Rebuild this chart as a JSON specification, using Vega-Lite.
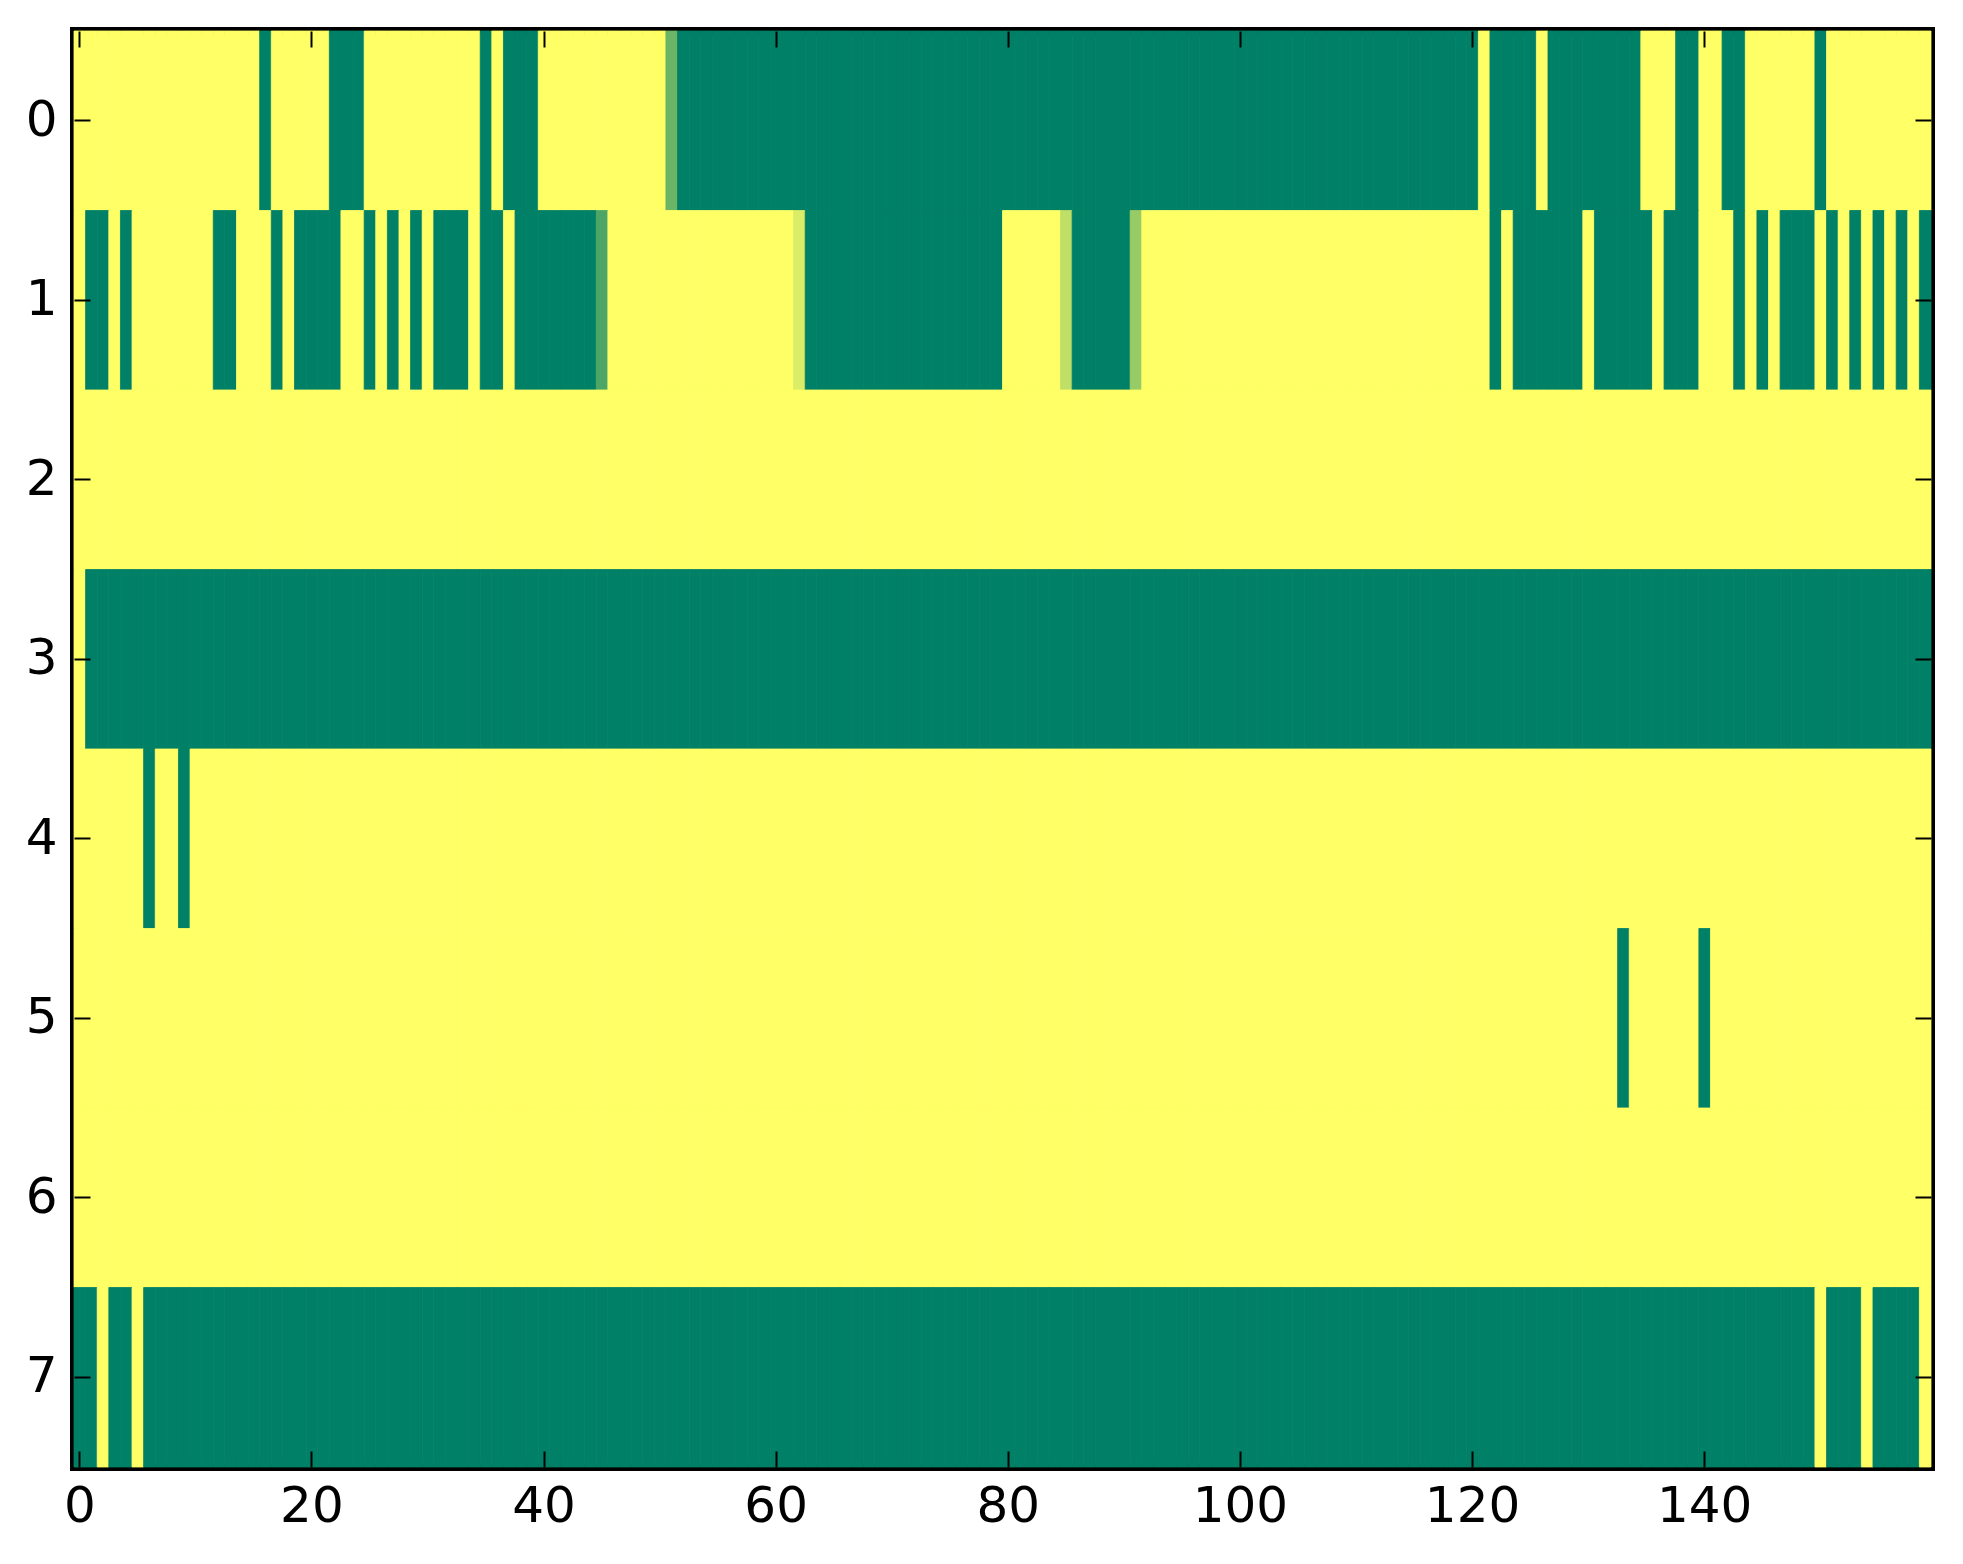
{
  "$schema": "https://vega.github.io/schema/vega-lite/v6.json",
  "width": 1857,
  "height": 1436,
  "autosize": {"type": "none"},
  "padding": {"left": 74, "top": 31, "right": 32, "bottom": 97},
  "background": "white",
  "config": {
    "view": {"stroke": "black", "strokeWidth": 8},
    "font": "DejaVu Sans",
    "axis": {
      "domain": false,
      "grid": false,
      "tickColor": "black",
      "tickWidth": 2,
      "tickSize": -16,
      "labelFont": "DejaVu Sans",
      "labelFontSize": 50,
      "labelColor": "black",
      "title": null
    }
  },
  "data": {
    "values": [
      {"x":0,"y":0,"v":1},{"x":1,"y":0,"v":1},{"x":2,"y":0,"v":1},{"x":3,"y":0,"v":1},{"x":4,"y":0,"v":1},{"x":5,"y":0,"v":1},{"x":6,"y":0,"v":1},{"x":7,"y":0,"v":1},{"x":8,"y":0,"v":1},{"x":9,"y":0,"v":1},
      {"x":10,"y":0,"v":1},{"x":11,"y":0,"v":1},{"x":12,"y":0,"v":1},{"x":13,"y":0,"v":1},{"x":14,"y":0,"v":1},{"x":15,"y":0,"v":1},{"x":16,"y":0,"v":0},{"x":17,"y":0,"v":1},{"x":18,"y":0,"v":1},{"x":19,"y":0,"v":1},
      {"x":20,"y":0,"v":1},{"x":21,"y":0,"v":1},{"x":22,"y":0,"v":0},{"x":23,"y":0,"v":0},{"x":24,"y":0,"v":0},{"x":25,"y":0,"v":1},{"x":26,"y":0,"v":1},{"x":27,"y":0,"v":1},{"x":28,"y":0,"v":1},{"x":29,"y":0,"v":1},
      {"x":30,"y":0,"v":1},{"x":31,"y":0,"v":1},{"x":32,"y":0,"v":1},{"x":33,"y":0,"v":1},{"x":34,"y":0,"v":1},{"x":35,"y":0,"v":0},{"x":36,"y":0,"v":1},{"x":37,"y":0,"v":0},{"x":38,"y":0,"v":0},{"x":39,"y":0,"v":0},
      {"x":40,"y":0,"v":1},{"x":41,"y":0,"v":1},{"x":42,"y":0,"v":1},{"x":43,"y":0,"v":1},{"x":44,"y":0,"v":1},{"x":45,"y":0,"v":1},{"x":46,"y":0,"v":1},{"x":47,"y":0,"v":1},{"x":48,"y":0,"v":1},{"x":49,"y":0,"v":1},
      {"x":50,"y":0,"v":1},{"x":51,"y":0,"v":0.42},{"x":52,"y":0,"v":0},{"x":53,"y":0,"v":0},{"x":54,"y":0,"v":0},{"x":55,"y":0,"v":0},{"x":56,"y":0,"v":0},{"x":57,"y":0,"v":0},{"x":58,"y":0,"v":0},{"x":59,"y":0,"v":0},
      {"x":60,"y":0,"v":0},{"x":61,"y":0,"v":0},{"x":62,"y":0,"v":0},{"x":63,"y":0,"v":0},{"x":64,"y":0,"v":0},{"x":65,"y":0,"v":0},{"x":66,"y":0,"v":0},{"x":67,"y":0,"v":0},{"x":68,"y":0,"v":0},{"x":69,"y":0,"v":0},
      {"x":70,"y":0,"v":0},{"x":71,"y":0,"v":0},{"x":72,"y":0,"v":0},{"x":73,"y":0,"v":0},{"x":74,"y":0,"v":0},{"x":75,"y":0,"v":0},{"x":76,"y":0,"v":0},{"x":77,"y":0,"v":0},{"x":78,"y":0,"v":0},{"x":79,"y":0,"v":0},
      {"x":80,"y":0,"v":0},{"x":81,"y":0,"v":0},{"x":82,"y":0,"v":0},{"x":83,"y":0,"v":0},{"x":84,"y":0,"v":0},{"x":85,"y":0,"v":0},{"x":86,"y":0,"v":0},{"x":87,"y":0,"v":0},{"x":88,"y":0,"v":0},{"x":89,"y":0,"v":0},
      {"x":90,"y":0,"v":0},{"x":91,"y":0,"v":0},{"x":92,"y":0,"v":0},{"x":93,"y":0,"v":0},{"x":94,"y":0,"v":0},{"x":95,"y":0,"v":0},{"x":96,"y":0,"v":0},{"x":97,"y":0,"v":0},{"x":98,"y":0,"v":0},{"x":99,"y":0,"v":0},
      {"x":100,"y":0,"v":0},{"x":101,"y":0,"v":0},{"x":102,"y":0,"v":0},{"x":103,"y":0,"v":0},{"x":104,"y":0,"v":0},{"x":105,"y":0,"v":0},{"x":106,"y":0,"v":0},{"x":107,"y":0,"v":0},{"x":108,"y":0,"v":0},{"x":109,"y":0,"v":0},
      {"x":110,"y":0,"v":0},{"x":111,"y":0,"v":0},{"x":112,"y":0,"v":0},{"x":113,"y":0,"v":0},{"x":114,"y":0,"v":0},{"x":115,"y":0,"v":0},{"x":116,"y":0,"v":0},{"x":117,"y":0,"v":0},{"x":118,"y":0,"v":0},{"x":119,"y":0,"v":0},
      {"x":120,"y":0,"v":0},{"x":121,"y":0,"v":1},{"x":122,"y":0,"v":0},{"x":123,"y":0,"v":0},{"x":124,"y":0,"v":0},{"x":125,"y":0,"v":0},{"x":126,"y":0,"v":1},{"x":127,"y":0,"v":0},{"x":128,"y":0,"v":0},{"x":129,"y":0,"v":0},
      {"x":130,"y":0,"v":0},{"x":131,"y":0,"v":0},{"x":132,"y":0,"v":0},{"x":133,"y":0,"v":0},{"x":134,"y":0,"v":0},{"x":135,"y":0,"v":1},{"x":136,"y":0,"v":1},{"x":137,"y":0,"v":1},{"x":138,"y":0,"v":0},{"x":139,"y":0,"v":0},
      {"x":140,"y":0,"v":1},{"x":141,"y":0,"v":1},{"x":142,"y":0,"v":0},{"x":143,"y":0,"v":0},{"x":144,"y":0,"v":1},{"x":145,"y":0,"v":1},{"x":146,"y":0,"v":1},{"x":147,"y":0,"v":1},{"x":148,"y":0,"v":1},{"x":149,"y":0,"v":1},
      {"x":150,"y":0,"v":0},{"x":151,"y":0,"v":1},{"x":152,"y":0,"v":1},{"x":153,"y":0,"v":1},{"x":154,"y":0,"v":1},{"x":155,"y":0,"v":1},{"x":156,"y":0,"v":1},{"x":157,"y":0,"v":1},{"x":158,"y":0,"v":1},{"x":159,"y":0,"v":1},

      {"x":0,"y":1,"v":1},{"x":1,"y":1,"v":0},{"x":2,"y":1,"v":0},{"x":3,"y":1,"v":1},{"x":4,"y":1,"v":0},{"x":5,"y":1,"v":1},{"x":6,"y":1,"v":1},{"x":7,"y":1,"v":1},{"x":8,"y":1,"v":1},{"x":9,"y":1,"v":1},
      {"x":10,"y":1,"v":1},{"x":11,"y":1,"v":1},{"x":12,"y":1,"v":0},{"x":13,"y":1,"v":0},{"x":14,"y":1,"v":1},{"x":15,"y":1,"v":1},{"x":16,"y":1,"v":1},{"x":17,"y":1,"v":0},{"x":18,"y":1,"v":1},{"x":19,"y":1,"v":0},
      {"x":20,"y":1,"v":0},{"x":21,"y":1,"v":0},{"x":22,"y":1,"v":0},{"x":23,"y":1,"v":1},{"x":24,"y":1,"v":1},{"x":25,"y":1,"v":0},{"x":26,"y":1,"v":1},{"x":27,"y":1,"v":0},{"x":28,"y":1,"v":1},{"x":29,"y":1,"v":0},
      {"x":30,"y":1,"v":1},{"x":31,"y":1,"v":0},{"x":32,"y":1,"v":0},{"x":33,"y":1,"v":0},{"x":34,"y":1,"v":1},{"x":35,"y":1,"v":0},{"x":36,"y":1,"v":0},{"x":37,"y":1,"v":1},{"x":38,"y":1,"v":0},{"x":39,"y":1,"v":0},
      {"x":40,"y":1,"v":0},{"x":41,"y":1,"v":0},{"x":42,"y":1,"v":0},{"x":43,"y":1,"v":0},{"x":44,"y":1,"v":0},{"x":45,"y":1,"v":0.3},{"x":46,"y":1,"v":1},{"x":47,"y":1,"v":1},{"x":48,"y":1,"v":1},{"x":49,"y":1,"v":1},
      {"x":50,"y":1,"v":1},{"x":51,"y":1,"v":1},{"x":52,"y":1,"v":1},{"x":53,"y":1,"v":1},{"x":54,"y":1,"v":1},{"x":55,"y":1,"v":1},{"x":56,"y":1,"v":1},{"x":57,"y":1,"v":1},{"x":58,"y":1,"v":1},{"x":59,"y":1,"v":1},
      {"x":60,"y":1,"v":1},{"x":61,"y":1,"v":1},{"x":62,"y":1,"v":0.86},{"x":63,"y":1,"v":0},{"x":64,"y":1,"v":0},{"x":65,"y":1,"v":0},{"x":66,"y":1,"v":0},{"x":67,"y":1,"v":0},{"x":68,"y":1,"v":0},{"x":69,"y":1,"v":0},
      {"x":70,"y":1,"v":0},{"x":71,"y":1,"v":0},{"x":72,"y":1,"v":0},{"x":73,"y":1,"v":0},{"x":74,"y":1,"v":0},{"x":75,"y":1,"v":0},{"x":76,"y":1,"v":0},{"x":77,"y":1,"v":0},{"x":78,"y":1,"v":0},{"x":79,"y":1,"v":0},
      {"x":80,"y":1,"v":1},{"x":81,"y":1,"v":1},{"x":82,"y":1,"v":1},{"x":83,"y":1,"v":1},{"x":84,"y":1,"v":1},{"x":85,"y":1,"v":0.75},{"x":86,"y":1,"v":0},{"x":87,"y":1,"v":0},{"x":88,"y":1,"v":0},{"x":89,"y":1,"v":0},
      {"x":90,"y":1,"v":0},{"x":91,"y":1,"v":0.59},{"x":92,"y":1,"v":1},{"x":93,"y":1,"v":1},{"x":94,"y":1,"v":1},{"x":95,"y":1,"v":1},{"x":96,"y":1,"v":1},{"x":97,"y":1,"v":1},{"x":98,"y":1,"v":1},{"x":99,"y":1,"v":1},
      {"x":100,"y":1,"v":1},{"x":101,"y":1,"v":1},{"x":102,"y":1,"v":1},{"x":103,"y":1,"v":1},{"x":104,"y":1,"v":1},{"x":105,"y":1,"v":1},{"x":106,"y":1,"v":1},{"x":107,"y":1,"v":1},{"x":108,"y":1,"v":1},{"x":109,"y":1,"v":1},
      {"x":110,"y":1,"v":1},{"x":111,"y":1,"v":1},{"x":112,"y":1,"v":1},{"x":113,"y":1,"v":1},{"x":114,"y":1,"v":1},{"x":115,"y":1,"v":1},{"x":116,"y":1,"v":1},{"x":117,"y":1,"v":1},{"x":118,"y":1,"v":1},{"x":119,"y":1,"v":1},
      {"x":120,"y":1,"v":1},{"x":121,"y":1,"v":1},{"x":122,"y":1,"v":0},{"x":123,"y":1,"v":1},{"x":124,"y":1,"v":0},{"x":125,"y":1,"v":0},{"x":126,"y":1,"v":0},{"x":127,"y":1,"v":0},{"x":128,"y":1,"v":0},{"x":129,"y":1,"v":0},
      {"x":130,"y":1,"v":1},{"x":131,"y":1,"v":0},{"x":132,"y":1,"v":0},{"x":133,"y":1,"v":0},{"x":134,"y":1,"v":0},{"x":135,"y":1,"v":0},{"x":136,"y":1,"v":1},{"x":137,"y":1,"v":0},{"x":138,"y":1,"v":0},{"x":139,"y":1,"v":0},
      {"x":140,"y":1,"v":1},{"x":141,"y":1,"v":1},{"x":142,"y":1,"v":1},{"x":143,"y":1,"v":0},{"x":144,"y":1,"v":1},{"x":145,"y":1,"v":0},{"x":146,"y":1,"v":1},{"x":147,"y":1,"v":0},{"x":148,"y":1,"v":0},{"x":149,"y":1,"v":0},
      {"x":150,"y":1,"v":1},{"x":151,"y":1,"v":0},{"x":152,"y":1,"v":1},{"x":153,"y":1,"v":0},{"x":154,"y":1,"v":1},{"x":155,"y":1,"v":0},{"x":156,"y":1,"v":1},{"x":157,"y":1,"v":0},{"x":158,"y":1,"v":1},{"x":159,"y":1,"v":0},

      {"x":0,"y":2,"v":1},{"x":1,"y":2,"v":1},{"x":2,"y":2,"v":1},{"x":3,"y":2,"v":1},{"x":4,"y":2,"v":1},{"x":5,"y":2,"v":1},{"x":6,"y":2,"v":1},{"x":7,"y":2,"v":1},{"x":8,"y":2,"v":1},{"x":9,"y":2,"v":1},
      {"x":10,"y":2,"v":1},{"x":11,"y":2,"v":1},{"x":12,"y":2,"v":1},{"x":13,"y":2,"v":1},{"x":14,"y":2,"v":1},{"x":15,"y":2,"v":1},{"x":16,"y":2,"v":1},{"x":17,"y":2,"v":1},{"x":18,"y":2,"v":1},{"x":19,"y":2,"v":1},
      {"x":20,"y":2,"v":1},{"x":21,"y":2,"v":1},{"x":22,"y":2,"v":1},{"x":23,"y":2,"v":1},{"x":24,"y":2,"v":1},{"x":25,"y":2,"v":1},{"x":26,"y":2,"v":1},{"x":27,"y":2,"v":1},{"x":28,"y":2,"v":1},{"x":29,"y":2,"v":1},
      {"x":30,"y":2,"v":1},{"x":31,"y":2,"v":1},{"x":32,"y":2,"v":1},{"x":33,"y":2,"v":1},{"x":34,"y":2,"v":1},{"x":35,"y":2,"v":1},{"x":36,"y":2,"v":1},{"x":37,"y":2,"v":1},{"x":38,"y":2,"v":1},{"x":39,"y":2,"v":1},
      {"x":40,"y":2,"v":1},{"x":41,"y":2,"v":1},{"x":42,"y":2,"v":1},{"x":43,"y":2,"v":1},{"x":44,"y":2,"v":1},{"x":45,"y":2,"v":1},{"x":46,"y":2,"v":1},{"x":47,"y":2,"v":1},{"x":48,"y":2,"v":1},{"x":49,"y":2,"v":1},
      {"x":50,"y":2,"v":1},{"x":51,"y":2,"v":1},{"x":52,"y":2,"v":1},{"x":53,"y":2,"v":1},{"x":54,"y":2,"v":1},{"x":55,"y":2,"v":1},{"x":56,"y":2,"v":1},{"x":57,"y":2,"v":1},{"x":58,"y":2,"v":1},{"x":59,"y":2,"v":1},
      {"x":60,"y":2,"v":1},{"x":61,"y":2,"v":1},{"x":62,"y":2,"v":1},{"x":63,"y":2,"v":1},{"x":64,"y":2,"v":1},{"x":65,"y":2,"v":1},{"x":66,"y":2,"v":1},{"x":67,"y":2,"v":1},{"x":68,"y":2,"v":1},{"x":69,"y":2,"v":1},
      {"x":70,"y":2,"v":1},{"x":71,"y":2,"v":1},{"x":72,"y":2,"v":1},{"x":73,"y":2,"v":1},{"x":74,"y":2,"v":1},{"x":75,"y":2,"v":1},{"x":76,"y":2,"v":1},{"x":77,"y":2,"v":1},{"x":78,"y":2,"v":1},{"x":79,"y":2,"v":1},
      {"x":80,"y":2,"v":1},{"x":81,"y":2,"v":1},{"x":82,"y":2,"v":1},{"x":83,"y":2,"v":1},{"x":84,"y":2,"v":1},{"x":85,"y":2,"v":1},{"x":86,"y":2,"v":1},{"x":87,"y":2,"v":1},{"x":88,"y":2,"v":1},{"x":89,"y":2,"v":1},
      {"x":90,"y":2,"v":1},{"x":91,"y":2,"v":1},{"x":92,"y":2,"v":1},{"x":93,"y":2,"v":1},{"x":94,"y":2,"v":1},{"x":95,"y":2,"v":1},{"x":96,"y":2,"v":1},{"x":97,"y":2,"v":1},{"x":98,"y":2,"v":1},{"x":99,"y":2,"v":1},
      {"x":100,"y":2,"v":1},{"x":101,"y":2,"v":1},{"x":102,"y":2,"v":1},{"x":103,"y":2,"v":1},{"x":104,"y":2,"v":1},{"x":105,"y":2,"v":1},{"x":106,"y":2,"v":1},{"x":107,"y":2,"v":1},{"x":108,"y":2,"v":1},{"x":109,"y":2,"v":1},
      {"x":110,"y":2,"v":1},{"x":111,"y":2,"v":1},{"x":112,"y":2,"v":1},{"x":113,"y":2,"v":1},{"x":114,"y":2,"v":1},{"x":115,"y":2,"v":1},{"x":116,"y":2,"v":1},{"x":117,"y":2,"v":1},{"x":118,"y":2,"v":1},{"x":119,"y":2,"v":1},
      {"x":120,"y":2,"v":1},{"x":121,"y":2,"v":1},{"x":122,"y":2,"v":1},{"x":123,"y":2,"v":1},{"x":124,"y":2,"v":1},{"x":125,"y":2,"v":1},{"x":126,"y":2,"v":1},{"x":127,"y":2,"v":1},{"x":128,"y":2,"v":1},{"x":129,"y":2,"v":1},
      {"x":130,"y":2,"v":1},{"x":131,"y":2,"v":1},{"x":132,"y":2,"v":1},{"x":133,"y":2,"v":1},{"x":134,"y":2,"v":1},{"x":135,"y":2,"v":1},{"x":136,"y":2,"v":1},{"x":137,"y":2,"v":1},{"x":138,"y":2,"v":1},{"x":139,"y":2,"v":1},
      {"x":140,"y":2,"v":1},{"x":141,"y":2,"v":1},{"x":142,"y":2,"v":1},{"x":143,"y":2,"v":1},{"x":144,"y":2,"v":1},{"x":145,"y":2,"v":1},{"x":146,"y":2,"v":1},{"x":147,"y":2,"v":1},{"x":148,"y":2,"v":1},{"x":149,"y":2,"v":1},
      {"x":150,"y":2,"v":1},{"x":151,"y":2,"v":1},{"x":152,"y":2,"v":1},{"x":153,"y":2,"v":1},{"x":154,"y":2,"v":1},{"x":155,"y":2,"v":1},{"x":156,"y":2,"v":1},{"x":157,"y":2,"v":1},{"x":158,"y":2,"v":1},{"x":159,"y":2,"v":1},

      {"x":0,"y":3,"v":1},{"x":1,"y":3,"v":0},{"x":2,"y":3,"v":0},{"x":3,"y":3,"v":0},{"x":4,"y":3,"v":0},{"x":5,"y":3,"v":0},{"x":6,"y":3,"v":0},{"x":7,"y":3,"v":0},{"x":8,"y":3,"v":0},{"x":9,"y":3,"v":0},
      {"x":10,"y":3,"v":0},{"x":11,"y":3,"v":0},{"x":12,"y":3,"v":0},{"x":13,"y":3,"v":0},{"x":14,"y":3,"v":0},{"x":15,"y":3,"v":0},{"x":16,"y":3,"v":0},{"x":17,"y":3,"v":0},{"x":18,"y":3,"v":0},{"x":19,"y":3,"v":0},
      {"x":20,"y":3,"v":0},{"x":21,"y":3,"v":0},{"x":22,"y":3,"v":0},{"x":23,"y":3,"v":0},{"x":24,"y":3,"v":0},{"x":25,"y":3,"v":0},{"x":26,"y":3,"v":0},{"x":27,"y":3,"v":0},{"x":28,"y":3,"v":0},{"x":29,"y":3,"v":0},
      {"x":30,"y":3,"v":0},{"x":31,"y":3,"v":0},{"x":32,"y":3,"v":0},{"x":33,"y":3,"v":0},{"x":34,"y":3,"v":0},{"x":35,"y":3,"v":0},{"x":36,"y":3,"v":0},{"x":37,"y":3,"v":0},{"x":38,"y":3,"v":0},{"x":39,"y":3,"v":0},
      {"x":40,"y":3,"v":0},{"x":41,"y":3,"v":0},{"x":42,"y":3,"v":0},{"x":43,"y":3,"v":0},{"x":44,"y":3,"v":0},{"x":45,"y":3,"v":0},{"x":46,"y":3,"v":0},{"x":47,"y":3,"v":0},{"x":48,"y":3,"v":0},{"x":49,"y":3,"v":0},
      {"x":50,"y":3,"v":0},{"x":51,"y":3,"v":0},{"x":52,"y":3,"v":0},{"x":53,"y":3,"v":0},{"x":54,"y":3,"v":0},{"x":55,"y":3,"v":0},{"x":56,"y":3,"v":0},{"x":57,"y":3,"v":0},{"x":58,"y":3,"v":0},{"x":59,"y":3,"v":0},
      {"x":60,"y":3,"v":0},{"x":61,"y":3,"v":0},{"x":62,"y":3,"v":0},{"x":63,"y":3,"v":0},{"x":64,"y":3,"v":0},{"x":65,"y":3,"v":0},{"x":66,"y":3,"v":0},{"x":67,"y":3,"v":0},{"x":68,"y":3,"v":0},{"x":69,"y":3,"v":0},
      {"x":70,"y":3,"v":0},{"x":71,"y":3,"v":0},{"x":72,"y":3,"v":0},{"x":73,"y":3,"v":0},{"x":74,"y":3,"v":0},{"x":75,"y":3,"v":0},{"x":76,"y":3,"v":0},{"x":77,"y":3,"v":0},{"x":78,"y":3,"v":0},{"x":79,"y":3,"v":0},
      {"x":80,"y":3,"v":0},{"x":81,"y":3,"v":0},{"x":82,"y":3,"v":0},{"x":83,"y":3,"v":0},{"x":84,"y":3,"v":0},{"x":85,"y":3,"v":0},{"x":86,"y":3,"v":0},{"x":87,"y":3,"v":0},{"x":88,"y":3,"v":0},{"x":89,"y":3,"v":0},
      {"x":90,"y":3,"v":0},{"x":91,"y":3,"v":0},{"x":92,"y":3,"v":0},{"x":93,"y":3,"v":0},{"x":94,"y":3,"v":0},{"x":95,"y":3,"v":0},{"x":96,"y":3,"v":0},{"x":97,"y":3,"v":0},{"x":98,"y":3,"v":0},{"x":99,"y":3,"v":0},
      {"x":100,"y":3,"v":0},{"x":101,"y":3,"v":0},{"x":102,"y":3,"v":0},{"x":103,"y":3,"v":0},{"x":104,"y":3,"v":0},{"x":105,"y":3,"v":0},{"x":106,"y":3,"v":0},{"x":107,"y":3,"v":0},{"x":108,"y":3,"v":0},{"x":109,"y":3,"v":0},
      {"x":110,"y":3,"v":0},{"x":111,"y":3,"v":0},{"x":112,"y":3,"v":0},{"x":113,"y":3,"v":0},{"x":114,"y":3,"v":0},{"x":115,"y":3,"v":0},{"x":116,"y":3,"v":0},{"x":117,"y":3,"v":0},{"x":118,"y":3,"v":0},{"x":119,"y":3,"v":0},
      {"x":120,"y":3,"v":0},{"x":121,"y":3,"v":0},{"x":122,"y":3,"v":0},{"x":123,"y":3,"v":0},{"x":124,"y":3,"v":0},{"x":125,"y":3,"v":0},{"x":126,"y":3,"v":0},{"x":127,"y":3,"v":0},{"x":128,"y":3,"v":0},{"x":129,"y":3,"v":0},
      {"x":130,"y":3,"v":0},{"x":131,"y":3,"v":0},{"x":132,"y":3,"v":0},{"x":133,"y":3,"v":0},{"x":134,"y":3,"v":0},{"x":135,"y":3,"v":0},{"x":136,"y":3,"v":0},{"x":137,"y":3,"v":0},{"x":138,"y":3,"v":0},{"x":139,"y":3,"v":0},
      {"x":140,"y":3,"v":0},{"x":141,"y":3,"v":0},{"x":142,"y":3,"v":0},{"x":143,"y":3,"v":0},{"x":144,"y":3,"v":0},{"x":145,"y":3,"v":0},{"x":146,"y":3,"v":0},{"x":147,"y":3,"v":0},{"x":148,"y":3,"v":0},{"x":149,"y":3,"v":0},
      {"x":150,"y":3,"v":0},{"x":151,"y":3,"v":0},{"x":152,"y":3,"v":0},{"x":153,"y":3,"v":0},{"x":154,"y":3,"v":0},{"x":155,"y":3,"v":0},{"x":156,"y":3,"v":0},{"x":157,"y":3,"v":0},{"x":158,"y":3,"v":0},{"x":159,"y":3,"v":0},

      {"x":0,"y":4,"v":1},{"x":1,"y":4,"v":1},{"x":2,"y":4,"v":1},{"x":3,"y":4,"v":1},{"x":4,"y":4,"v":1},{"x":5,"y":4,"v":1},{"x":6,"y":4,"v":0},{"x":7,"y":4,"v":1},{"x":8,"y":4,"v":1},{"x":9,"y":4,"v":0},
      {"x":10,"y":4,"v":1},{"x":11,"y":4,"v":1},{"x":12,"y":4,"v":1},{"x":13,"y":4,"v":1},{"x":14,"y":4,"v":1},{"x":15,"y":4,"v":1},{"x":16,"y":4,"v":1},{"x":17,"y":4,"v":1},{"x":18,"y":4,"v":1},{"x":19,"y":4,"v":1},
      {"x":20,"y":4,"v":1},{"x":21,"y":4,"v":1},{"x":22,"y":4,"v":1},{"x":23,"y":4,"v":1},{"x":24,"y":4,"v":1},{"x":25,"y":4,"v":1},{"x":26,"y":4,"v":1},{"x":27,"y":4,"v":1},{"x":28,"y":4,"v":1},{"x":29,"y":4,"v":1},
      {"x":30,"y":4,"v":1},{"x":31,"y":4,"v":1},{"x":32,"y":4,"v":1},{"x":33,"y":4,"v":1},{"x":34,"y":4,"v":1},{"x":35,"y":4,"v":1},{"x":36,"y":4,"v":1},{"x":37,"y":4,"v":1},{"x":38,"y":4,"v":1},{"x":39,"y":4,"v":1},
      {"x":40,"y":4,"v":1},{"x":41,"y":4,"v":1},{"x":42,"y":4,"v":1},{"x":43,"y":4,"v":1},{"x":44,"y":4,"v":1},{"x":45,"y":4,"v":1},{"x":46,"y":4,"v":1},{"x":47,"y":4,"v":1},{"x":48,"y":4,"v":1},{"x":49,"y":4,"v":1},
      {"x":50,"y":4,"v":1},{"x":51,"y":4,"v":1},{"x":52,"y":4,"v":1},{"x":53,"y":4,"v":1},{"x":54,"y":4,"v":1},{"x":55,"y":4,"v":1},{"x":56,"y":4,"v":1},{"x":57,"y":4,"v":1},{"x":58,"y":4,"v":1},{"x":59,"y":4,"v":1},
      {"x":60,"y":4,"v":1},{"x":61,"y":4,"v":1},{"x":62,"y":4,"v":1},{"x":63,"y":4,"v":1},{"x":64,"y":4,"v":1},{"x":65,"y":4,"v":1},{"x":66,"y":4,"v":1},{"x":67,"y":4,"v":1},{"x":68,"y":4,"v":1},{"x":69,"y":4,"v":1},
      {"x":70,"y":4,"v":1},{"x":71,"y":4,"v":1},{"x":72,"y":4,"v":1},{"x":73,"y":4,"v":1},{"x":74,"y":4,"v":1},{"x":75,"y":4,"v":1},{"x":76,"y":4,"v":1},{"x":77,"y":4,"v":1},{"x":78,"y":4,"v":1},{"x":79,"y":4,"v":1},
      {"x":80,"y":4,"v":1},{"x":81,"y":4,"v":1},{"x":82,"y":4,"v":1},{"x":83,"y":4,"v":1},{"x":84,"y":4,"v":1},{"x":85,"y":4,"v":1},{"x":86,"y":4,"v":1},{"x":87,"y":4,"v":1},{"x":88,"y":4,"v":1},{"x":89,"y":4,"v":1},
      {"x":90,"y":4,"v":1},{"x":91,"y":4,"v":1},{"x":92,"y":4,"v":1},{"x":93,"y":4,"v":1},{"x":94,"y":4,"v":1},{"x":95,"y":4,"v":1},{"x":96,"y":4,"v":1},{"x":97,"y":4,"v":1},{"x":98,"y":4,"v":1},{"x":99,"y":4,"v":1},
      {"x":100,"y":4,"v":1},{"x":101,"y":4,"v":1},{"x":102,"y":4,"v":1},{"x":103,"y":4,"v":1},{"x":104,"y":4,"v":1},{"x":105,"y":4,"v":1},{"x":106,"y":4,"v":1},{"x":107,"y":4,"v":1},{"x":108,"y":4,"v":1},{"x":109,"y":4,"v":1},
      {"x":110,"y":4,"v":1},{"x":111,"y":4,"v":1},{"x":112,"y":4,"v":1},{"x":113,"y":4,"v":1},{"x":114,"y":4,"v":1},{"x":115,"y":4,"v":1},{"x":116,"y":4,"v":1},{"x":117,"y":4,"v":1},{"x":118,"y":4,"v":1},{"x":119,"y":4,"v":1},
      {"x":120,"y":4,"v":1},{"x":121,"y":4,"v":1},{"x":122,"y":4,"v":1},{"x":123,"y":4,"v":1},{"x":124,"y":4,"v":1},{"x":125,"y":4,"v":1},{"x":126,"y":4,"v":1},{"x":127,"y":4,"v":1},{"x":128,"y":4,"v":1},{"x":129,"y":4,"v":1},
      {"x":130,"y":4,"v":1},{"x":131,"y":4,"v":1},{"x":132,"y":4,"v":1},{"x":133,"y":4,"v":1},{"x":134,"y":4,"v":1},{"x":135,"y":4,"v":1},{"x":136,"y":4,"v":1},{"x":137,"y":4,"v":1},{"x":138,"y":4,"v":1},{"x":139,"y":4,"v":1},
      {"x":140,"y":4,"v":1},{"x":141,"y":4,"v":1},{"x":142,"y":4,"v":1},{"x":143,"y":4,"v":1},{"x":144,"y":4,"v":1},{"x":145,"y":4,"v":1},{"x":146,"y":4,"v":1},{"x":147,"y":4,"v":1},{"x":148,"y":4,"v":1},{"x":149,"y":4,"v":1},
      {"x":150,"y":4,"v":1},{"x":151,"y":4,"v":1},{"x":152,"y":4,"v":1},{"x":153,"y":4,"v":1},{"x":154,"y":4,"v":1},{"x":155,"y":4,"v":1},{"x":156,"y":4,"v":1},{"x":157,"y":4,"v":1},{"x":158,"y":4,"v":1},{"x":159,"y":4,"v":1},

      {"x":0,"y":5,"v":1},{"x":1,"y":5,"v":1},{"x":2,"y":5,"v":1},{"x":3,"y":5,"v":1},{"x":4,"y":5,"v":1},{"x":5,"y":5,"v":1},{"x":6,"y":5,"v":1},{"x":7,"y":5,"v":1},{"x":8,"y":5,"v":1},{"x":9,"y":5,"v":1},
      {"x":10,"y":5,"v":1},{"x":11,"y":5,"v":1},{"x":12,"y":5,"v":1},{"x":13,"y":5,"v":1},{"x":14,"y":5,"v":1},{"x":15,"y":5,"v":1},{"x":16,"y":5,"v":1},{"x":17,"y":5,"v":1},{"x":18,"y":5,"v":1},{"x":19,"y":5,"v":1},
      {"x":20,"y":5,"v":1},{"x":21,"y":5,"v":1},{"x":22,"y":5,"v":1},{"x":23,"y":5,"v":1},{"x":24,"y":5,"v":1},{"x":25,"y":5,"v":1},{"x":26,"y":5,"v":1},{"x":27,"y":5,"v":1},{"x":28,"y":5,"v":1},{"x":29,"y":5,"v":1},
      {"x":30,"y":5,"v":1},{"x":31,"y":5,"v":1},{"x":32,"y":5,"v":1},{"x":33,"y":5,"v":1},{"x":34,"y":5,"v":1},{"x":35,"y":5,"v":1},{"x":36,"y":5,"v":1},{"x":37,"y":5,"v":1},{"x":38,"y":5,"v":1},{"x":39,"y":5,"v":1},
      {"x":40,"y":5,"v":1},{"x":41,"y":5,"v":1},{"x":42,"y":5,"v":1},{"x":43,"y":5,"v":1},{"x":44,"y":5,"v":1},{"x":45,"y":5,"v":1},{"x":46,"y":5,"v":1},{"x":47,"y":5,"v":1},{"x":48,"y":5,"v":1},{"x":49,"y":5,"v":1},
      {"x":50,"y":5,"v":1},{"x":51,"y":5,"v":1},{"x":52,"y":5,"v":1},{"x":53,"y":5,"v":1},{"x":54,"y":5,"v":1},{"x":55,"y":5,"v":1},{"x":56,"y":5,"v":1},{"x":57,"y":5,"v":1},{"x":58,"y":5,"v":1},{"x":59,"y":5,"v":1},
      {"x":60,"y":5,"v":1},{"x":61,"y":5,"v":1},{"x":62,"y":5,"v":1},{"x":63,"y":5,"v":1},{"x":64,"y":5,"v":1},{"x":65,"y":5,"v":1},{"x":66,"y":5,"v":1},{"x":67,"y":5,"v":1},{"x":68,"y":5,"v":1},{"x":69,"y":5,"v":1},
      {"x":70,"y":5,"v":1},{"x":71,"y":5,"v":1},{"x":72,"y":5,"v":1},{"x":73,"y":5,"v":1},{"x":74,"y":5,"v":1},{"x":75,"y":5,"v":1},{"x":76,"y":5,"v":1},{"x":77,"y":5,"v":1},{"x":78,"y":5,"v":1},{"x":79,"y":5,"v":1},
      {"x":80,"y":5,"v":1},{"x":81,"y":5,"v":1},{"x":82,"y":5,"v":1},{"x":83,"y":5,"v":1},{"x":84,"y":5,"v":1},{"x":85,"y":5,"v":1},{"x":86,"y":5,"v":1},{"x":87,"y":5,"v":1},{"x":88,"y":5,"v":1},{"x":89,"y":5,"v":1},
      {"x":90,"y":5,"v":1},{"x":91,"y":5,"v":1},{"x":92,"y":5,"v":1},{"x":93,"y":5,"v":1},{"x":94,"y":5,"v":1},{"x":95,"y":5,"v":1},{"x":96,"y":5,"v":1},{"x":97,"y":5,"v":1},{"x":98,"y":5,"v":1},{"x":99,"y":5,"v":1},
      {"x":100,"y":5,"v":1},{"x":101,"y":5,"v":1},{"x":102,"y":5,"v":1},{"x":103,"y":5,"v":1},{"x":104,"y":5,"v":1},{"x":105,"y":5,"v":1},{"x":106,"y":5,"v":1},{"x":107,"y":5,"v":1},{"x":108,"y":5,"v":1},{"x":109,"y":5,"v":1},
      {"x":110,"y":5,"v":1},{"x":111,"y":5,"v":1},{"x":112,"y":5,"v":1},{"x":113,"y":5,"v":1},{"x":114,"y":5,"v":1},{"x":115,"y":5,"v":1},{"x":116,"y":5,"v":1},{"x":117,"y":5,"v":1},{"x":118,"y":5,"v":1},{"x":119,"y":5,"v":1},
      {"x":120,"y":5,"v":1},{"x":121,"y":5,"v":1},{"x":122,"y":5,"v":1},{"x":123,"y":5,"v":1},{"x":124,"y":5,"v":1},{"x":125,"y":5,"v":1},{"x":126,"y":5,"v":1},{"x":127,"y":5,"v":1},{"x":128,"y":5,"v":1},{"x":129,"y":5,"v":1},
      {"x":130,"y":5,"v":1},{"x":131,"y":5,"v":1},{"x":132,"y":5,"v":1},{"x":133,"y":5,"v":0},{"x":134,"y":5,"v":1},{"x":135,"y":5,"v":1},{"x":136,"y":5,"v":1},{"x":137,"y":5,"v":1},{"x":138,"y":5,"v":1},{"x":139,"y":5,"v":1},
      {"x":140,"y":5,"v":0},{"x":141,"y":5,"v":1},{"x":142,"y":5,"v":1},{"x":143,"y":5,"v":1},{"x":144,"y":5,"v":1},{"x":145,"y":5,"v":1},{"x":146,"y":5,"v":1},{"x":147,"y":5,"v":1},{"x":148,"y":5,"v":1},{"x":149,"y":5,"v":1},
      {"x":150,"y":5,"v":1},{"x":151,"y":5,"v":1},{"x":152,"y":5,"v":1},{"x":153,"y":5,"v":1},{"x":154,"y":5,"v":1},{"x":155,"y":5,"v":1},{"x":156,"y":5,"v":1},{"x":157,"y":5,"v":1},{"x":158,"y":5,"v":1},{"x":159,"y":5,"v":1},

      {"x":0,"y":6,"v":1},{"x":1,"y":6,"v":1},{"x":2,"y":6,"v":1},{"x":3,"y":6,"v":1},{"x":4,"y":6,"v":1},{"x":5,"y":6,"v":1},{"x":6,"y":6,"v":1},{"x":7,"y":6,"v":1},{"x":8,"y":6,"v":1},{"x":9,"y":6,"v":1},
      {"x":10,"y":6,"v":1},{"x":11,"y":6,"v":1},{"x":12,"y":6,"v":1},{"x":13,"y":6,"v":1},{"x":14,"y":6,"v":1},{"x":15,"y":6,"v":1},{"x":16,"y":6,"v":1},{"x":17,"y":6,"v":1},{"x":18,"y":6,"v":1},{"x":19,"y":6,"v":1},
      {"x":20,"y":6,"v":1},{"x":21,"y":6,"v":1},{"x":22,"y":6,"v":1},{"x":23,"y":6,"v":1},{"x":24,"y":6,"v":1},{"x":25,"y":6,"v":1},{"x":26,"y":6,"v":1},{"x":27,"y":6,"v":1},{"x":28,"y":6,"v":1},{"x":29,"y":6,"v":1},
      {"x":30,"y":6,"v":1},{"x":31,"y":6,"v":1},{"x":32,"y":6,"v":1},{"x":33,"y":6,"v":1},{"x":34,"y":6,"v":1},{"x":35,"y":6,"v":1},{"x":36,"y":6,"v":1},{"x":37,"y":6,"v":1},{"x":38,"y":6,"v":1},{"x":39,"y":6,"v":1},
      {"x":40,"y":6,"v":1},{"x":41,"y":6,"v":1},{"x":42,"y":6,"v":1},{"x":43,"y":6,"v":1},{"x":44,"y":6,"v":1},{"x":45,"y":6,"v":1},{"x":46,"y":6,"v":1},{"x":47,"y":6,"v":1},{"x":48,"y":6,"v":1},{"x":49,"y":6,"v":1},
      {"x":50,"y":6,"v":1},{"x":51,"y":6,"v":1},{"x":52,"y":6,"v":1},{"x":53,"y":6,"v":1},{"x":54,"y":6,"v":1},{"x":55,"y":6,"v":1},{"x":56,"y":6,"v":1},{"x":57,"y":6,"v":1},{"x":58,"y":6,"v":1},{"x":59,"y":6,"v":1},
      {"x":60,"y":6,"v":1},{"x":61,"y":6,"v":1},{"x":62,"y":6,"v":1},{"x":63,"y":6,"v":1},{"x":64,"y":6,"v":1},{"x":65,"y":6,"v":1},{"x":66,"y":6,"v":1},{"x":67,"y":6,"v":1},{"x":68,"y":6,"v":1},{"x":69,"y":6,"v":1},
      {"x":70,"y":6,"v":1},{"x":71,"y":6,"v":1},{"x":72,"y":6,"v":1},{"x":73,"y":6,"v":1},{"x":74,"y":6,"v":1},{"x":75,"y":6,"v":1},{"x":76,"y":6,"v":1},{"x":77,"y":6,"v":1},{"x":78,"y":6,"v":1},{"x":79,"y":6,"v":1},
      {"x":80,"y":6,"v":1},{"x":81,"y":6,"v":1},{"x":82,"y":6,"v":1},{"x":83,"y":6,"v":1},{"x":84,"y":6,"v":1},{"x":85,"y":6,"v":1},{"x":86,"y":6,"v":1},{"x":87,"y":6,"v":1},{"x":88,"y":6,"v":1},{"x":89,"y":6,"v":1},
      {"x":90,"y":6,"v":1},{"x":91,"y":6,"v":1},{"x":92,"y":6,"v":1},{"x":93,"y":6,"v":1},{"x":94,"y":6,"v":1},{"x":95,"y":6,"v":1},{"x":96,"y":6,"v":1},{"x":97,"y":6,"v":1},{"x":98,"y":6,"v":1},{"x":99,"y":6,"v":1},
      {"x":100,"y":6,"v":1},{"x":101,"y":6,"v":1},{"x":102,"y":6,"v":1},{"x":103,"y":6,"v":1},{"x":104,"y":6,"v":1},{"x":105,"y":6,"v":1},{"x":106,"y":6,"v":1},{"x":107,"y":6,"v":1},{"x":108,"y":6,"v":1},{"x":109,"y":6,"v":1},
      {"x":110,"y":6,"v":1},{"x":111,"y":6,"v":1},{"x":112,"y":6,"v":1},{"x":113,"y":6,"v":1},{"x":114,"y":6,"v":1},{"x":115,"y":6,"v":1},{"x":116,"y":6,"v":1},{"x":117,"y":6,"v":1},{"x":118,"y":6,"v":1},{"x":119,"y":6,"v":1},
      {"x":120,"y":6,"v":1},{"x":121,"y":6,"v":1},{"x":122,"y":6,"v":1},{"x":123,"y":6,"v":1},{"x":124,"y":6,"v":1},{"x":125,"y":6,"v":1},{"x":126,"y":6,"v":1},{"x":127,"y":6,"v":1},{"x":128,"y":6,"v":1},{"x":129,"y":6,"v":1},
      {"x":130,"y":6,"v":1},{"x":131,"y":6,"v":1},{"x":132,"y":6,"v":1},{"x":133,"y":6,"v":1},{"x":134,"y":6,"v":1},{"x":135,"y":6,"v":1},{"x":136,"y":6,"v":1},{"x":137,"y":6,"v":1},{"x":138,"y":6,"v":1},{"x":139,"y":6,"v":1},
      {"x":140,"y":6,"v":1},{"x":141,"y":6,"v":1},{"x":142,"y":6,"v":1},{"x":143,"y":6,"v":1},{"x":144,"y":6,"v":1},{"x":145,"y":6,"v":1},{"x":146,"y":6,"v":1},{"x":147,"y":6,"v":1},{"x":148,"y":6,"v":1},{"x":149,"y":6,"v":1},
      {"x":150,"y":6,"v":1},{"x":151,"y":6,"v":1},{"x":152,"y":6,"v":1},{"x":153,"y":6,"v":1},{"x":154,"y":6,"v":1},{"x":155,"y":6,"v":1},{"x":156,"y":6,"v":1},{"x":157,"y":6,"v":1},{"x":158,"y":6,"v":1},{"x":159,"y":6,"v":1},

      {"x":0,"y":7,"v":0},{"x":1,"y":7,"v":0},{"x":2,"y":7,"v":1},{"x":3,"y":7,"v":0},{"x":4,"y":7,"v":0},{"x":5,"y":7,"v":1},{"x":6,"y":7,"v":0},{"x":7,"y":7,"v":0},{"x":8,"y":7,"v":0},{"x":9,"y":7,"v":0},
      {"x":10,"y":7,"v":0},{"x":11,"y":7,"v":0},{"x":12,"y":7,"v":0},{"x":13,"y":7,"v":0},{"x":14,"y":7,"v":0},{"x":15,"y":7,"v":0},{"x":16,"y":7,"v":0},{"x":17,"y":7,"v":0},{"x":18,"y":7,"v":0},{"x":19,"y":7,"v":0},
      {"x":20,"y":7,"v":0},{"x":21,"y":7,"v":0},{"x":22,"y":7,"v":0},{"x":23,"y":7,"v":0},{"x":24,"y":7,"v":0},{"x":25,"y":7,"v":0},{"x":26,"y":7,"v":0},{"x":27,"y":7,"v":0},{"x":28,"y":7,"v":0},{"x":29,"y":7,"v":0},
      {"x":30,"y":7,"v":0},{"x":31,"y":7,"v":0},{"x":32,"y":7,"v":0},{"x":33,"y":7,"v":0},{"x":34,"y":7,"v":0},{"x":35,"y":7,"v":0},{"x":36,"y":7,"v":0},{"x":37,"y":7,"v":0},{"x":38,"y":7,"v":0},{"x":39,"y":7,"v":0},
      {"x":40,"y":7,"v":0},{"x":41,"y":7,"v":0},{"x":42,"y":7,"v":0},{"x":43,"y":7,"v":0},{"x":44,"y":7,"v":0},{"x":45,"y":7,"v":0},{"x":46,"y":7,"v":0},{"x":47,"y":7,"v":0},{"x":48,"y":7,"v":0},{"x":49,"y":7,"v":0},
      {"x":50,"y":7,"v":0},{"x":51,"y":7,"v":0},{"x":52,"y":7,"v":0},{"x":53,"y":7,"v":0},{"x":54,"y":7,"v":0},{"x":55,"y":7,"v":0},{"x":56,"y":7,"v":0},{"x":57,"y":7,"v":0},{"x":58,"y":7,"v":0},{"x":59,"y":7,"v":0},
      {"x":60,"y":7,"v":0},{"x":61,"y":7,"v":0},{"x":62,"y":7,"v":0},{"x":63,"y":7,"v":0},{"x":64,"y":7,"v":0},{"x":65,"y":7,"v":0},{"x":66,"y":7,"v":0},{"x":67,"y":7,"v":0},{"x":68,"y":7,"v":0},{"x":69,"y":7,"v":0},
      {"x":70,"y":7,"v":0},{"x":71,"y":7,"v":0},{"x":72,"y":7,"v":0},{"x":73,"y":7,"v":0},{"x":74,"y":7,"v":0},{"x":75,"y":7,"v":0},{"x":76,"y":7,"v":0},{"x":77,"y":7,"v":0},{"x":78,"y":7,"v":0},{"x":79,"y":7,"v":0},
      {"x":80,"y":7,"v":0},{"x":81,"y":7,"v":0},{"x":82,"y":7,"v":0},{"x":83,"y":7,"v":0},{"x":84,"y":7,"v":0},{"x":85,"y":7,"v":0},{"x":86,"y":7,"v":0},{"x":87,"y":7,"v":0},{"x":88,"y":7,"v":0},{"x":89,"y":7,"v":0},
      {"x":90,"y":7,"v":0},{"x":91,"y":7,"v":0},{"x":92,"y":7,"v":0},{"x":93,"y":7,"v":0},{"x":94,"y":7,"v":0},{"x":95,"y":7,"v":0},{"x":96,"y":7,"v":0},{"x":97,"y":7,"v":0},{"x":98,"y":7,"v":0},{"x":99,"y":7,"v":0},
      {"x":100,"y":7,"v":0},{"x":101,"y":7,"v":0},{"x":102,"y":7,"v":0},{"x":103,"y":7,"v":0},{"x":104,"y":7,"v":0},{"x":105,"y":7,"v":0},{"x":106,"y":7,"v":0},{"x":107,"y":7,"v":0},{"x":108,"y":7,"v":0},{"x":109,"y":7,"v":0},
      {"x":110,"y":7,"v":0},{"x":111,"y":7,"v":0},{"x":112,"y":7,"v":0},{"x":113,"y":7,"v":0},{"x":114,"y":7,"v":0},{"x":115,"y":7,"v":0},{"x":116,"y":7,"v":0},{"x":117,"y":7,"v":0},{"x":118,"y":7,"v":0},{"x":119,"y":7,"v":0},
      {"x":120,"y":7,"v":0},{"x":121,"y":7,"v":0},{"x":122,"y":7,"v":0},{"x":123,"y":7,"v":0},{"x":124,"y":7,"v":0},{"x":125,"y":7,"v":0},{"x":126,"y":7,"v":0},{"x":127,"y":7,"v":0},{"x":128,"y":7,"v":0},{"x":129,"y":7,"v":0},
      {"x":130,"y":7,"v":0},{"x":131,"y":7,"v":0},{"x":132,"y":7,"v":0},{"x":133,"y":7,"v":0},{"x":134,"y":7,"v":0},{"x":135,"y":7,"v":0},{"x":136,"y":7,"v":0},{"x":137,"y":7,"v":0},{"x":138,"y":7,"v":0},{"x":139,"y":7,"v":0},
      {"x":140,"y":7,"v":0},{"x":141,"y":7,"v":0},{"x":142,"y":7,"v":0},{"x":143,"y":7,"v":0},{"x":144,"y":7,"v":0},{"x":145,"y":7,"v":0},{"x":146,"y":7,"v":0},{"x":147,"y":7,"v":0},{"x":148,"y":7,"v":0},{"x":149,"y":7,"v":0},
      {"x":150,"y":7,"v":1},{"x":151,"y":7,"v":0},{"x":152,"y":7,"v":0},{"x":153,"y":7,"v":0},{"x":154,"y":7,"v":1},{"x":155,"y":7,"v":0},{"x":156,"y":7,"v":0},{"x":157,"y":7,"v":0},{"x":158,"y":7,"v":0},{"x":159,"y":7,"v":1}
    ]
  },
  "layer": [
    {
      "mark": {"type": "rect", "strokeWidth": 0.8},
      "encoding": {
        "x": {
          "field": "x", "type": "ordinal",
          "scale": {"paddingInner": 0, "paddingOuter": 0},
          "axis": {"orient": "bottom", "values": [0, 20, 40, 60, 80, 100, 120, 140], "labelAngle": 0, "labelPadding": 30}
        },
        "y": {
          "field": "y", "type": "ordinal",
          "scale": {"paddingInner": 0, "paddingOuter": 0},
          "axis": {"orient": "left", "labelPadding": 33}
        },
        "fill": {
          "field": "v", "type": "quantitative",
          "scale": {"domain": [0, 1], "range": ["#008066", "#ffff66"], "interpolate": "rgb"},
          "legend": null
        },
        "stroke": {
          "field": "v", "type": "quantitative",
          "scale": {"domain": [0, 1], "range": ["#008066", "#ffff66"], "interpolate": "rgb"},
          "legend": null
        }
      }
    },
    {
      "mark": {"type": "rect", "opacity": 0},
      "encoding": {
        "x": {
          "field": "x", "type": "ordinal",
          "axis": {"orient": "top", "values": [0, 20, 40, 60, 80, 100, 120, 140], "labels": false}
        },
        "y": {
          "field": "y", "type": "ordinal",
          "axis": {"orient": "right", "labels": false}
        }
      }
    }
  ],
  "resolve": {"axis": {"x": "independent", "y": "independent"}}
}
